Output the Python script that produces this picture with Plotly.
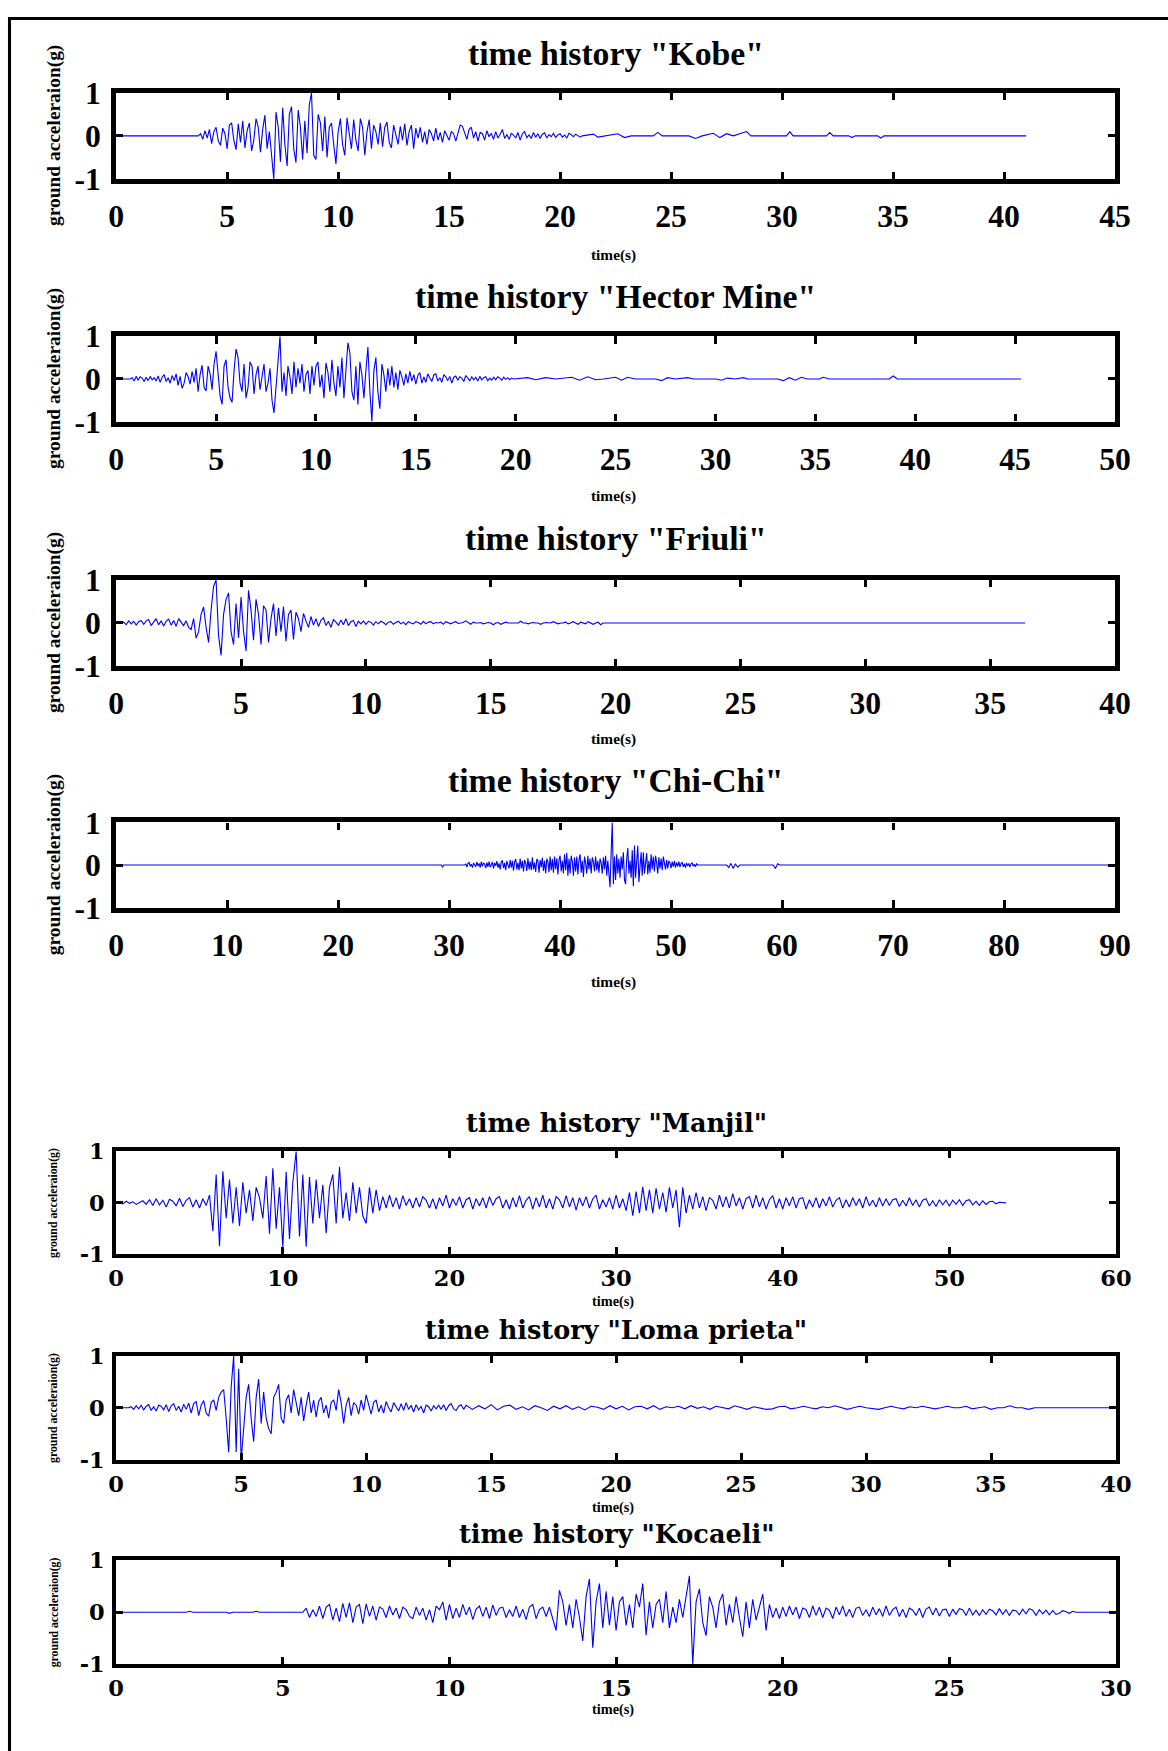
import plotly.graph_objects as go

# ---------------- data (ground acceleration in g) ----------------
kobe_pre_t = [0.0, 3.7]
kobe_pre_acc = [0.0, 0.0]
kobe_t0 = 3.8
kobe_dt = 0.1
kobe_acc = [
    0.05, -0.08, 0.12, -0.05, 0.15, -0.18, 0.1, 0.2, -0.12, -0.22, 0.18, 0.05,
    -0.3, 0.25, 0.3, -0.1, -0.32, 0.28, -0.15, 0.35, -0.28, 0.12,
    0.3, -0.35, -0.1, 0.4, 0.2, -0.38, 0.15, 0.48, -0.3, 0.1,
    -0.45, -1.0, 0.55, 0.2, -0.6, 0.65, -0.2, -0.7, 0.5, 0.68,
    -0.3, -0.62, 0.6, 0.2, -0.55, 0.35, -0.4, 0.72, 1.0, -0.45,
    -0.55, 0.5, 0.3, -0.35, 0.45, -0.5, 0.2, 0.3, -0.2, -0.65,
    0.1, 0.4, -0.2, -0.45, 0.42, 0.1, -0.3, 0.38, -0.1, -0.35,
    0.4, 0.2, -0.45, 0.1, 0.38, -0.3, 0.25, 0.1, -0.2, 0.3,
    -0.25, 0.2, 0.32, -0.15, -0.28, 0.25, 0.05, -0.2, 0.22, -0.1,
    0.28, -0.22, 0.1, 0.25, -0.3, 0.18, -0.05, 0.2, -0.15, 0.1,
    -0.2, 0.15, 0.05, -0.12, 0.18, -0.1, 0.08, -0.15, 0.12, 0.02,
    -0.1, 0.1, 0.05, -0.12, 0.08, 0.25, 0.22, 0.05, -0.08, 0.15,
    0.2, -0.05, 0.1, -0.12, 0.08, 0.05, -0.1, 0.12, -0.02, 0.06,
    -0.08, 0.1, -0.05, 0.04, 0.15, -0.06, 0.03, -0.08, 0.06, 0.02,
    -0.05, 0.08, -0.1, 0.05, 0.1, -0.04, 0.02, -0.06, 0.08, -0.03,
    0.05, -0.06, 0.04, 0.07, -0.05, 0.03, -0.02, 0.06, -0.04, 0.02,
    0.05, -0.03, 0.02, -0.05, 0.06, 0.03, -0.02, 0.04, 0.0, -0.03, 0.0,
]
kobe_post_t = [21.5, 21.7, 22.0, 22.6, 22.9, 23.2, 24.2, 24.4, 24.6, 25.8, 26.1, 26.4, 26.9,
               27.2, 27.5, 27.8, 28.4, 28.6, 30.2, 30.35, 30.5, 32.0, 32.15, 32.3, 33.0,
               33.15, 33.3, 34.3, 34.45, 34.6, 41.0]
kobe_post_acc = [0.04, -0.03, 0.0, 0.05, -0.04, 0.0, 0.0, 0.08, 0.0, 0.0, -0.06, 0.0, 0.06,
                 -0.04, 0.05, 0.0, 0.1, 0.0, 0.0, 0.1, 0.0, 0.0, 0.08, 0.0, 0.0,
                 -0.04, 0.0, 0.0, -0.05, 0.0, 0.0]

hector_pre_t = [0.0, 0.7]
hector_pre_acc = [0.0, 0.0]
hector_t0 = 0.8
hector_dt = 0.1
hector_acc = [
    0.03, -0.05, 0.06, -0.03, 0.05, 0.02, -0.06, 0.04, -0.04, 0.06, -0.02, 0.03,
    -0.05, 0.07, -0.08, 0.04, 0.1, -0.06, 0.03, -0.1, 0.08, -0.04,
    0.12, -0.15, 0.06, -0.22, -0.1, 0.15, 0.05, -0.12, 0.18, -0.08,
    0.25, -0.3, 0.1, 0.32, -0.2, -0.28, 0.3, 0.12, -0.25, 0.35,
    0.65, 0.2, -0.4, -0.6, 0.3, 0.45, -0.2, -0.45, -0.55, 0.2,
    0.7, 0.5, -0.1, -0.3, 0.35, -0.45, -0.2, 0.4, 0.3, -0.35,
    0.1, 0.3, -0.25, 0.05, 0.35, -0.3, -0.1, 0.25, -0.5, -0.8,
    -0.2, 0.5, 1.0, -0.3, 0.15, -0.4, 0.3, 0.05, -0.35, 0.4,
    -0.2, 0.25, -0.1, 0.35, -0.3, 0.1, 0.2, -0.35, 0.3, -0.15,
    0.3, 0.4, -0.2, 0.1, -0.45, 0.38, 0.15, -0.3, 0.45, -0.1,
    -0.4, 0.3, -0.2, 0.5, -0.45, 0.2, 0.85, 0.6, -0.3, -0.5,
    0.3, -0.6, 0.4, 0.1, -0.45, 0.2, 0.75, -0.3, -1.0, 0.2,
    0.5, -0.3, -0.7, 0.35, 0.1, -0.3, 0.25, -0.15, 0.3, -0.2,
    0.15, -0.25, 0.2, 0.05, -0.15, 0.12, -0.1, 0.18, -0.05, 0.1,
    -0.12, 0.08, 0.15, -0.1, 0.05, -0.08, 0.12, 0.02, -0.06, 0.1,
    0.12, -0.05, 0.03, -0.08, 0.1, 0.05, -0.04, 0.06, -0.1, 0.04,
    0.07, -0.03, 0.05, 0.02, -0.06, 0.08, 0.03, -0.04, 0.05, -0.02,
    0.04, -0.05, 0.06, -0.02, 0.03, 0.05, -0.04, 0.02, -0.03, 0.04,
    -0.02, 0.05, 0.02, -0.03, 0.04, -0.01, 0.03, -0.02, 0.02, 0.0,
]
hector_post_t = [20.6, 21.0, 21.5, 22.0, 22.8, 23.2, 23.6, 24.0, 24.4, 25.0, 25.3, 25.6, 26.0,
                 27.0, 27.3, 27.6, 28.0, 28.6, 28.9, 30.0, 30.3, 30.6, 31.0, 31.4, 31.6,
                 33.1, 33.4, 33.7, 34.0, 34.3, 34.6, 35.2, 35.4, 35.7, 38.7, 38.9, 39.1, 45.3]
hector_post_acc = [0.03, -0.02, 0.03, 0.0, 0.04, -0.03, 0.05, -0.02, 0.0, 0.04, -0.03, 0.04, 0.0,
                   0.0, -0.04, 0.03, 0.0, 0.03, 0.0, 0.0, -0.03, 0.02, 0.0, 0.03, 0.0,
                   0.0, -0.04, 0.03, -0.03, 0.04, 0.0, 0.0, 0.04, 0.0, 0.0, 0.07, 0.0, 0.0]

friuli_pre_t = [0.0, 0.2]
friuli_pre_acc = [0.0, 0.0]
friuli_t0 = 0.3
friuli_dt = 0.1
friuli_acc = [
    0.02, -0.04, 0.05, -0.02, 0.04, -0.05, 0.03,
    0.06, -0.03, 0.05, 0.08, -0.06, 0.02, 0.1, -0.04, 0.05, -0.07,
    0.04, 0.09, -0.05, 0.06, -0.08, 0.1, 0.02, -0.06, 0.05, -0.1,
    -0.15, 0.1, -0.35, -0.2, 0.2, 0.37, -0.1, -0.45, 0.3, 0.85,
    1.0, -0.3, -0.75, 0.2, 0.55, 0.7, -0.2, -0.5, 0.45, -0.35,
    0.6, -0.2, -0.65, 0.76, 0.3, -0.4, 0.55, 0.2, -0.5, 0.4,
    0.3, -0.45, 0.1, 0.45, -0.3, 0.35, -0.2, 0.38, -0.42, 0.2,
    0.3, -0.38, 0.25, 0.1, -0.2, 0.22, 0.05, -0.1, 0.15, -0.05,
    0.1, -0.08, 0.06, 0.12, -0.06, 0.04, -0.1, 0.08, 0.02, -0.05,
    0.07, -0.04, 0.1, -0.06, 0.03, 0.06, -0.08, 0.04, -0.02, 0.05,
    -0.03, 0.04, 0.02, -0.05, 0.03, -0.02, 0.04, 0.01, -0.04, 0.02,
    0.03, -0.03, 0.01, 0.04, -0.02, 0.02, -0.04, 0.03, 0.0, -0.02,
    0.03, 0.01, -0.03, 0.04, -0.02, 0.02, 0.03, -0.02, 0.01, 0.0,
    0.02, -0.03, 0.03, 0.0, -0.02, 0.01, 0.03, -0.01, 0.0, 0.01,
    0.05, 0.0, -0.03, 0.02, 0.0, 0.0, 0.01, -0.02, 0.0, 0.01,
    0.0, -0.04, 0.0, 0.01, -0.03, 0.0, 0.02, 0.0, 0.0, 0.01,
    0.0, 0.0, 0.04, 0.0, 0.0, -0.02, 0.0, 0.01, 0.0, 0.0,
    -0.03, 0.0, 0.01, 0.0, 0.0, 0.03, 0.0, -0.02, 0.0, 0.0,
    0.02, -0.02, 0.0, 0.03, 0.0, -0.03, 0.02, 0.0, -0.02, 0.03,
    0.0, -0.03, 0.0, 0.02, -0.04, 0.0, 0.0, 0.0, 0.0, 0.0,
]
friuli_post_t = [36.4]
friuli_post_acc = [0.0]

chichi_pre_t = [0.0, 29.3, 29.4, 29.5, 31.4]
chichi_pre_acc = [0.0, 0.0, -0.05, 0.0, 0.0]
chichi_t0 = 31.5
chichi_dt = 0.1
chichi_acc = [
    0.03, -0.05, 0.04, 0.06, -0.03, 0.02, -0.06, 0.05, 0.01, -0.04,
    0.07, -0.02, 0.04, -0.06, 0.08, -0.03, 0.05, 0.02, -0.07, 0.06,
    -0.04, 0.08, -0.05, 0.03, 0.07, -0.08, 0.05, -0.02, 0.09, -0.06,
    0.04, -0.1, 0.08, 0.1, -0.07, 0.05, -0.12, 0.1, 0.03, -0.08,
    0.12, -0.06, 0.1, -0.13, 0.08, 0.14, -0.1, 0.05, -0.12, 0.15,
    -0.08, 0.1, -0.15, 0.12, 0.05, -0.14, 0.16, -0.1, 0.08, -0.12,
    0.18, -0.1, 0.06, -0.16, 0.14, 0.1, -0.18, 0.12, -0.05, 0.17,
    -0.14, 0.1, -0.2, 0.15, 0.08, -0.17, 0.2, -0.12, 0.14, -0.18,
    0.2, -0.1, 0.16, -0.22, 0.12, 0.22, -0.15, 0.1, -0.2, 0.25,
    -0.12, 0.29, -0.25, 0.15, -0.2, 0.22, 0.08, -0.25, 0.18, -0.15,
    0.2, -0.22, 0.12, 0.25, -0.18, 0.1, -0.28, 0.2, 0.05, -0.2,
    0.22, -0.1, 0.15, -0.2, 0.18, 0.08, -0.15, 0.2, -0.12, 0.1,
    -0.18, 0.15, 0.05, -0.2, 0.18, -0.1, 0.22, -0.25, 0.1, -0.3,
    -0.52, 0.3, 1.0, -0.45, 0.2, -0.35, 0.25, -0.2, 0.15, -0.3,
    0.2, -0.1, 0.3, -0.35, -0.45, 0.15, 0.4, -0.2, 0.1, -0.3,
    0.35, -0.5, 0.46, -0.3, 0.2, 0.45, -0.4, 0.1, 0.3, -0.25,
    0.3, -0.2, 0.15, 0.28, -0.22, 0.1, -0.18, 0.25, -0.1, 0.2,
    -0.15, 0.22, 0.05, -0.2, 0.18, -0.08, 0.15, -0.12, 0.2, 0.05,
    -0.1, 0.12, -0.08, 0.1, 0.05, -0.07, 0.08, -0.04, 0.1, -0.06,
    0.06, -0.03, 0.08, -0.05, 0.04, 0.06, -0.04, 0.03, -0.06, 0.05,
    -0.02, 0.04, -0.05, 0.03, 0.05, -0.03, 0.02, -0.04, 0.03, 0.0,
]
chichi_post_t = [55.0, 55.2, 55.4, 55.6, 55.8, 56.0, 56.2, 59.2, 59.4, 59.6, 59.8, 90.0]
chichi_post_acc = [0.0, -0.06, 0.04, -0.08, 0.03, -0.05, 0.0, 0.0, -0.08, 0.03, 0.0, 0.0]

manjil_pre_t = []
manjil_pre_acc = []
manjil_t0 = 0.0
manjil_dt = 0.2
manjil_acc = [
    0.0, 0.02, -0.02, 0.03, -0.01, 0.02, -0.03, 0.01, 0.04, -0.03,
    0.06, -0.05, 0.08, -0.04, 0.05, -0.08, 0.07, 0.03, -0.06, 0.09,
    -0.07, 0.05, 0.1, -0.08, 0.06, -0.1, 0.08, -0.05, 0.15, -0.55,
    0.55, -0.84, 0.61, -0.3, 0.45, -0.4, 0.3, -0.45, 0.4, -0.2,
    0.25, -0.35, 0.3, 0.1, -0.3, 0.52, -0.6, 0.67, -0.5, 0.3,
    -0.86, 0.6, -0.7, 0.4, 1.0, -0.65, 0.55, -0.85, 0.5, -0.4,
    0.45, -0.3, 0.35, -0.59, 0.3, 0.55, -0.4, 0.7, -0.3, 0.2,
    -0.35, 0.4, -0.2, 0.3, -0.25, -0.4, 0.3, -0.2, 0.25, -0.15,
    0.12, -0.1, 0.15, -0.08, 0.1, -0.12, 0.14, -0.05, 0.08, -0.1,
    0.1, -0.08, 0.12, 0.05, -0.1, 0.08, -0.12, 0.1, -0.06, 0.15,
    -0.1, 0.08, -0.05, 0.12, -0.1, 0.06, 0.1, -0.12, 0.08, -0.06,
    0.1, -0.1, 0.12, -0.05, 0.08, 0.12, -0.1, 0.06, -0.12, 0.1,
    -0.08, 0.14, -0.1, 0.05, 0.12, -0.12, 0.1, -0.08, 0.15, -0.1,
    0.08, -0.12, 0.12, 0.06, -0.1, 0.14, -0.08, 0.1, -0.14, 0.1,
    -0.06, 0.12, -0.1, 0.08, 0.15, -0.12, 0.06, -0.08, 0.1, -0.12,
    0.15, -0.1, 0.08, -0.15, 0.2, -0.25, 0.22, -0.2, 0.31, -0.15,
    0.25, -0.2, 0.28, -0.12, 0.2, -0.18, 0.3, -0.1, 0.25, -0.47,
    0.3, -0.2, 0.15, -0.12, 0.2, -0.1, 0.12, -0.15, 0.1, 0.05,
    -0.12, 0.15, -0.08, 0.12, -0.1, 0.18, -0.06, 0.1, -0.12, 0.08,
    0.12, -0.1, 0.15, -0.08, 0.1, -0.12, 0.06, 0.14, -0.1, 0.08,
    -0.12, 0.1, -0.06, 0.12, -0.1, 0.08, 0.1, -0.12, 0.06, -0.08,
    0.1, -0.1, 0.08, -0.06, 0.12, -0.08, 0.05, 0.1, -0.1, 0.06,
    -0.08, 0.1, -0.05, 0.08, -0.1, 0.12, -0.06, 0.05, -0.08, 0.1,
    -0.06, 0.08, -0.05, 0.06, 0.08, -0.07, 0.05, -0.06, 0.1, -0.05,
    0.06, -0.08, 0.05, 0.08, -0.06, 0.04, -0.07, 0.06, -0.04, 0.05,
    -0.06, 0.05, -0.03, 0.06, -0.05, 0.04, 0.06, -0.04, 0.03, -0.05,
    0.04, -0.03, 0.02, 0.03, -0.02, 0.01, 0.0, 0.0,
]
manjil_post_t = []
manjil_post_acc = []

loma_pre_t = [0.0, 0.5]
loma_pre_acc = [0.0, 0.0]
loma_t0 = 0.6
loma_dt = 0.1
loma_acc = [
    0.02, -0.03, 0.04, -0.02,
    0.05, -0.04, 0.03, 0.06, -0.05, 0.02, -0.06, 0.05, 0.03, -0.04,
    0.06, -0.07, 0.04, 0.08, -0.05, 0.03, -0.08, 0.07, -0.03, 0.09,
    -0.1, 0.08, 0.12, -0.15, 0.05, 0.14, -0.1, -0.16, 0.1, 0.15,
    -0.05, 0.2, 0.3, 0.35, -0.2, -0.85, 0.4, 1.0, -0.85, 0.75,
    -1.0, -0.3, 0.2, 0.45, -0.2, -0.65, 0.2, 0.55, -0.3, 0.3,
    -0.2, -0.4, -0.5, 0.2, 0.3, 0.45, -0.2, -0.3, 0.15, 0.25,
    -0.1, 0.35, 0.1, -0.15, 0.2, -0.25, 0.05, 0.3, -0.1, 0.15,
    -0.18, 0.12, 0.2, -0.1, 0.05, -0.2, 0.1, 0.15, -0.05, 0.35,
    0.1, -0.3, 0.05, 0.2, -0.15, 0.1, 0.05, -0.12, 0.15, -0.05,
    0.25, 0.05, -0.12, 0.1, 0.15, -0.08, 0.05, -0.1, 0.12, 0.0,
    -0.08, 0.1, 0.02, -0.06, 0.08, -0.05, 0.1, -0.03, 0.05, -0.08,
    0.06, -0.04, 0.03, -0.1, 0.05, 0.02, -0.06, 0.04, -0.02, 0.05,
    -0.03, 0.06, -0.05, 0.04, 0.08, -0.02, -0.05, 0.03, 0.06, -0.03,
]
loma_t1 = 14.0
loma_dt1 = 0.25
loma_acc1 = [
    0.05, -0.03, 0.04, -0.02, 0.06, -0.04, 0.03, 0.05, -0.03, 0.02,
    -0.04, 0.04, 0.0, -0.05, 0.03, -0.02, 0.04, -0.03, 0.02, -0.04,
    0.03, 0.01, -0.03, 0.04, -0.02, 0.03, -0.04, 0.02, 0.03, -0.02,
    0.04, -0.03, 0.02, 0.0, 0.03, -0.02, 0.04, -0.01, 0.02, -0.03,
    0.03, 0.0, -0.02, 0.04, 0.01, -0.03, 0.02, 0.0, -0.03, -0.02,
    0.02, 0.03, -0.02, 0.0, 0.03, 0.0, -0.02, 0.02, 0.0, 0.04,
    0.0, -0.03, 0.0, 0.03, 0.0, -0.02, -0.03, 0.0, 0.03, 0.0,
    -0.02, 0.02, 0.0, 0.03, 0.0, -0.02, 0.0, 0.03, 0.0, 0.0,
    0.03, -0.02, 0.0, 0.02, -0.03, 0.0, 0.0, 0.04, 0.0, 0.0,
    -0.03, 0.0, 0.0, 0.0, 0.0, 0.0,
]
loma_post_t = [40.0]
loma_post_acc = [0.0]

kocaeli_pre_t = [0.0, 2.1, 2.2, 2.3, 3.3, 3.4, 3.5, 4.1, 4.2, 4.3, 5.6]
kocaeli_pre_acc = [0.0, 0.0, 0.02, 0.0, 0.0, -0.02, 0.0, 0.0, 0.02, 0.0, 0.0]
kocaeli_t0 = 5.7
kocaeli_dt = 0.1
kocaeli_acc = [
    0.08, -0.1, 0.05,
    -0.08, 0.12, -0.12, 0.1, 0.15, -0.15, 0.08, -0.18, 0.17, -0.1,
    0.18, -0.2, 0.1, 0.15, -0.22, 0.16, -0.08, 0.12, -0.15, 0.1,
    0.06, -0.1, 0.12, -0.05, 0.08, -0.12, 0.1, 0.05, -0.08, -0.12,
    0.1, -0.06, 0.08, -0.15, 0.05, -0.2, 0.12, 0.05, 0.2, -0.15,
    0.15, -0.12, 0.08, -0.1, 0.15, -0.05, 0.1, -0.14, 0.06, 0.12,
    -0.08, 0.1, -0.12, 0.14, -0.06, 0.08, 0.1, -0.1, 0.05, -0.08,
    0.12, -0.1, 0.06, -0.14, 0.1, 0.15, -0.12, 0.05, 0.1, -0.08,
    0.1, -0.15, -0.35, 0.42, 0.2, -0.25, 0.15, -0.3, 0.25, -0.1,
    -0.55, 0.3, 0.64, -0.68, 0.2, 0.55, -0.3, 0.4, -0.25, 0.3,
    -0.35, 0.2, 0.3, -0.25, 0.15, -0.3, 0.35, 0.1, 0.55, -0.44,
    0.2, -0.3, 0.15, 0.25, -0.2, 0.4, -0.3, 0.1, -0.2, 0.25,
    -0.1, 0.3, 0.7, -1.0, 0.2, 0.45, -0.2, -0.45, 0.3, 0.1,
    -0.3, 0.2, 0.35, -0.25, 0.15, -0.2, 0.3, -0.1, -0.47, 0.2,
    -0.3, 0.25, -0.15, 0.1, 0.35, -0.35, 0.15, -0.1, 0.08, -0.12,
    0.1, -0.08, 0.12, -0.05, 0.1, -0.12, 0.08, 0.05, -0.1, 0.12,
    -0.06, 0.1, -0.1, 0.08, 0.04, -0.12, 0.1, -0.05, 0.12, -0.08,
    0.06, -0.1, 0.08, 0.1, -0.06, 0.05, -0.08, 0.1, -0.05, 0.07,
    -0.08, 0.12, -0.06, 0.05, 0.1, -0.08, 0.06, -0.1, 0.08, 0.04,
    -0.06, 0.08, -0.1, 0.06, 0.1, -0.05, 0.08, -0.07, 0.05, 0.06,
    -0.08, 0.06, -0.04, 0.07, 0.05, -0.06, 0.08, -0.05, 0.04, -0.06,
    0.05, -0.04, 0.06, 0.03, -0.05, 0.07, -0.04, 0.05, -0.06, 0.04,
    0.03, -0.05, 0.06, -0.03, 0.07, 0.04, -0.06, 0.05, -0.03, 0.04,
    -0.05, 0.03, -0.04, -0.02, 0.03, 0.01, -0.02, 0.02, 0.0, 0.0,
]
kocaeli_post_t = [30.0]
kocaeli_post_acc = [0.0]

titles = ['time history "Kobe"', 'time history "Hector Mine"', 'time history "Friuli"',
          'time history "Chi-Chi"', 'time history "Manjil"', 'time history "Loma prieta"',
          'time history "Kocaeli"']
x_max = [45, 50, 40, 90, 60, 40, 30]
x_step = [5, 5, 5, 10, 10, 5, 5]
y_tick_vals = [-1, 0, 1]
y_tick_text = ['-1', '0', '1']
y_label = 'ground acceleraion(g)'
x_label = 'time(s)'


def sampled(t0, dt, acc):
    return [round(t0 + i * dt, 4) for i in range(len(acc))]


series = [
    (kobe_pre_t + sampled(kobe_t0, kobe_dt, kobe_acc) + kobe_post_t,
     kobe_pre_acc + kobe_acc + kobe_post_acc),
    (hector_pre_t + sampled(hector_t0, hector_dt, hector_acc) + hector_post_t,
     hector_pre_acc + hector_acc + hector_post_acc),
    (friuli_pre_t + sampled(friuli_t0, friuli_dt, friuli_acc) + friuli_post_t,
     friuli_pre_acc + friuli_acc + friuli_post_acc),
    (chichi_pre_t + sampled(chichi_t0, chichi_dt, chichi_acc) + chichi_post_t,
     chichi_pre_acc + chichi_acc + chichi_post_acc),
    (manjil_pre_t + sampled(manjil_t0, manjil_dt, manjil_acc) + manjil_post_t,
     manjil_pre_acc + manjil_acc + manjil_post_acc),
    (loma_pre_t + sampled(loma_t0, loma_dt, loma_acc) + sampled(loma_t1, loma_dt1, loma_acc1) + loma_post_t,
     loma_pre_acc + loma_acc + loma_acc1 + loma_post_acc),
    (kocaeli_pre_t + sampled(kocaeli_t0, kocaeli_dt, kocaeli_acc) + kocaeli_post_t,
     kocaeli_pre_acc + kocaeli_acc + kocaeli_post_acc),
]

# ---------------- layout geometry ----------------
# Positions are given in window pixels; the page shows the figure at (OFFX, OFFY)
# with an overall scale S, so they are converted to figure pixels below.
S = 0.978
OFFX, OFFY = 8.0, 17.4
W, H = 1186, 1773
K = 1 / S
box_top = [93, 336, 579, 821, 1149, 1353, 1557]
box_bot = [179, 421, 665, 906, 1252, 1457, 1661]
title_y = [54, 296, 538, 779, 1121, 1327, 1531]
xlab_y = [255, 495, 738, 980, 1299, 1504, 1706]
upper = [True, True, True, True, False, False, False]


def fy(px):
    return 1 - ((px - OFFY) / S) / H


def fx(px):
    return ((px - OFFX) / S) / W


fig = go.Figure()
layout = dict(
    width=W, height=H, margin=dict(l=0, r=0, t=0, b=0),
    paper_bgcolor='white', plot_bgcolor='white', showlegend=False,
    annotations=[], shapes=[],
)

for i in range(7):
    n = i + 1
    t, a = series[i]
    fig.add_trace(go.Scatter(x=t, y=a, mode='lines', line=dict(color='#0000FF', width=1.1),
                             xaxis=f'x{n}', yaxis=f'y{n}', hoverinfo='skip'))
    if upper[i]:
        lw, tfam, tsize, tick_size, ylab_size, xlab_size = 5, 'Liberation Serif', 33, 31, 19, 15
        x0, x1 = 116, 1113
        xstand, ystand = 5, 4
    else:
        lw, tfam, tsize, tick_size, ylab_size, xlab_size = 4, 'DejaVu Serif', 25, 22, 11.5, 14
        x0, x1 = 116, 1114
        xstand, ystand = 1, 3
    tickvals = list(range(0, x_max[i] + 1, x_step[i]))
    tf = dict(family=tfam, size=tick_size * K, color='black', weight='bold')
    layout[f'xaxis{n}'] = dict(
        domain=[fx(x0), fx(x1)], range=[0, x_max[i]], anchor=f'y{n}',
        showline=True, linecolor='black', linewidth=lw * K, mirror='allticks',
        ticks='inside', ticklen=7 * K, tickwidth=3 * K, tickcolor='black',
        tickvals=tickvals, ticktext=[str(v) for v in tickvals], ticklabelstandoff=xstand,
        tickfont=tf, showgrid=False, zeroline=False, fixedrange=True,
    )
    layout[f'yaxis{n}'] = dict(
        domain=[fy(box_bot[i]), fy(box_top[i])], range=[-1, 1], anchor=f'x{n}',
        showline=True, linecolor='black', linewidth=lw * K, mirror='allticks',
        ticks='inside', ticklen=7 * K, tickwidth=3 * K, tickcolor='black',
        tickvals=y_tick_vals, ticktext=y_tick_text, ticklabelstandoff=ystand,
        tickfont=tf, showgrid=False, zeroline=False, fixedrange=True,
    )
    xc = fx((x0 + x1) / 2)
    layout['annotations'].append(dict(
        text=f'<b>{titles[i]}</b>', x=xc, y=fy(title_y[i]), xref='paper', yref='paper',
        xanchor='center', yanchor='middle', showarrow=False,
        font=dict(family=tfam, size=tsize * K, color='black')))
    layout['annotations'].append(dict(
        text=f'<b>{x_label}</b>', x=fx(612), y=fy(xlab_y[i]), xref='paper', yref='paper',
        xanchor='center', yanchor='middle', showarrow=False,
        font=dict(family='Liberation Serif', size=xlab_size * K, color='black')))
    layout['annotations'].append(dict(
        text=f'<b>{y_label}</b>', x=fx(54), y=fy((box_top[i] + box_bot[i]) / 2),
        xref='paper', yref='paper', xanchor='center', yanchor='middle', showarrow=False,
        textangle=-90, font=dict(family='Liberation Serif', size=ylab_size * K, color='black')))

# outer frame (top and left edges)
layout['shapes'].append(dict(type='line', xref='paper', yref='paper',
                             x0=fx(9), x1=1, y0=1 - 1.6 / H, y1=1 - 1.6 / H,
                             line=dict(color='black', width=3 * K)))
layout['shapes'].append(dict(type='line', xref='paper', yref='paper',
                             x0=fx(9.5), x1=fx(9.5), y0=1, y1=0,
                             line=dict(color='black', width=3 * K)))

fig.update_layout(**layout)
fig.write_html('out.html', config={'displayModeBar': False})
